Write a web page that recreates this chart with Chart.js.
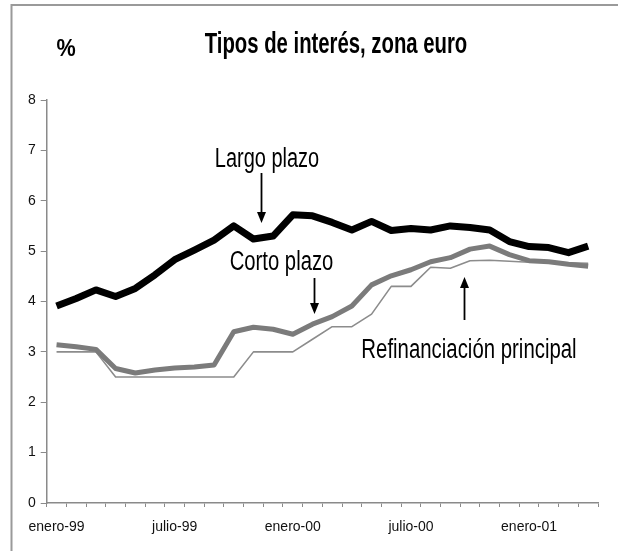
<!DOCTYPE html>
<html>
<head>
<meta charset="utf-8">
<script src="https://cdn.jsdelivr.net/npm/chart.js@4.4.0/dist/chart.umd.min.js"></script>
<style>
  html, body { margin: 0; padding: 0; background: #fff; }
  #rates-canvas { display: block; }
</style>
</head>
<body>
<canvas id="rates-canvas" width="618" height="551"></canvas>
<script>
const ratesCanvas = document.querySelector("#rates-canvas");

// meses enero-99 .. abril-01
const months = [
  "enero-99", "febrero-99", "marzo-99", "abril-99", "mayo-99", "junio-99",
  "julio-99", "agosto-99", "septiembre-99", "octubre-99", "noviembre-99", "diciembre-99",
  "enero-00", "febrero-00", "marzo-00", "abril-00", "mayo-00", "junio-00",
  "julio-00", "agosto-00", "septiembre-00", "octubre-00", "noviembre-00", "diciembre-00",
  "enero-01", "febrero-01", "marzo-01", "abril-01"
];
const shownLabels = ["enero-99", "julio-99", "enero-00", "julio-00", "enero-01"];
const yTicks = [0, 1, 2, 3, 4, 5, 6, 7, 8];

const largoPlazo = [3.91, 4.06, 4.23, 4.10, 4.26, 4.53, 4.83, 5.02, 5.22, 5.50, 5.24, 5.30,
  5.72, 5.70, 5.57, 5.42, 5.59, 5.41, 5.45, 5.42, 5.50, 5.47, 5.42, 5.19,
  5.09, 5.07, 4.97, 5.10];
const cortoPlazo = [3.14, 3.10, 3.05, 2.67, 2.58, 2.64, 2.68, 2.70, 2.74, 3.40, 3.49, 3.45,
  3.35, 3.55, 3.70, 3.91, 4.33, 4.51, 4.63, 4.79, 4.87, 5.04, 5.10, 4.93,
  4.81, 4.79, 4.74, 4.70];
const refinanciacion = [3.0, 3.0, 3.0, 2.5, 2.5, 2.5, 2.5, 2.5, 2.5, 2.5, 3.0, 3.0,
  3.0, 3.25, 3.5, 3.5, 3.75, 4.3, 4.3, 4.68, 4.66, 4.81, 4.82, 4.80,
  4.78, 4.78, 4.77, 4.76];

const FONT = "'Liberation Sans', Arial, sans-serif";

function squeezedText(ctx, text, x, y, size, weight, sx) {
  ctx.save();
  ctx.font = weight + " " + size + "px " + FONT;
  ctx.fillStyle = "#000";
  ctx.textAlign = "center";
  ctx.textBaseline = "alphabetic";
  ctx.translate(x, y);
  ctx.scale(sx, 1);
  ctx.fillText(text, 0, 0);
  ctx.restore();
}

function arrow(ctx, x, y1, y2) {
  // y2 is the tip
  const dir = y2 > y1 ? 1 : -1;
  ctx.save();
  ctx.strokeStyle = "#000";
  ctx.fillStyle = "#000";
  ctx.lineWidth = 1.8;
  ctx.beginPath();
  ctx.moveTo(x, y1);
  ctx.lineTo(x, y2 - dir * 8);
  ctx.stroke();
  ctx.beginPath();
  ctx.moveTo(x, y2);
  ctx.lineTo(x - 4.5, y2 - dir * 11);
  ctx.lineTo(x + 4.5, y2 - dir * 11);
  ctx.closePath();
  ctx.fill();
  ctx.restore();
}

const annotations = {
  id: "annotations",
  afterDraw(chart) {
    const ctx = chart.ctx;
    // marco
    ctx.save();
    ctx.strokeStyle = "#9a9a9a";
    ctx.lineWidth = 2;
    ctx.beginPath();
    ctx.moveTo(11.5, 551);
    ctx.lineTo(11.5, 5);
    ctx.lineTo(618, 5);
    ctx.stroke();
    ctx.restore();

    squeezedText(ctx, "Tipos de interés, zona euro", 336, 53, 29, "bold", 0.70);
    squeezedText(ctx, "%", 66, 56, 24, "bold", 0.9);

    squeezedText(ctx, "Largo plazo", 267, 167, 27, "normal", 0.74);
    arrow(ctx, 261.5, 173, 223);

    squeezedText(ctx, "Corto plazo", 281.5, 270, 27, "normal", 0.75);
    arrow(ctx, 314.5, 278, 314);

    squeezedText(ctx, "Refinanciación principal", 469, 358, 27, "normal", 0.755);
    arrow(ctx, 464.5, 320, 277);
  }
};

const data = {
  labels: months,
  datasets: [
    {
      label: "Largo plazo",
      data: largoPlazo,
      borderColor: "#000",
      borderWidth: 7,
      order: 1,
    },
    {
      label: "Corto plazo",
      data: cortoPlazo,
      borderColor: "#7b7b7b",
      borderWidth: 5,
      order: 2,
    },
    {
      label: "Refinanciación principal",
      data: refinanciacion,
      borderColor: "#8c8c8c",
      borderWidth: 1.6,
      order: 3,
    },
  ],
};

new Chart(ratesCanvas, {
  type: "line",
  data: data,
  options: {
    responsive: false,
    animation: false,
    devicePixelRatio: 1,
    layout: { padding: { left: 10, right: 20, top: 100, bottom: 0 } },
    elements: {
      point: { radius: 0 },
      line: { tension: 0, borderJoinStyle: "round", borderCapStyle: "butt", fill: false },
    },
    plugins: {
      legend: { display: false },
      tooltip: { enabled: false },
      title: { display: false },
    },
    scales: {
      x: {
        type: "category",
        offset: true,
        afterFit: (s) => { s.height = 48; },
        border: { color: "#8a8a8a", width: 1.5 },
        grid: {
          offset: true,
          drawOnChartArea: false,
          drawTicks: true,
          tickLength: 4,
          color: "#8a8a8a",
        },
        ticks: {
          autoSkip: false,
          maxRotation: 0,
          padding: 12,
          color: "#111",
          font: { family: FONT, size: 14 },
          callback: function (value, index) {
            const lbl = months[index];
            return shownLabels.includes(lbl) ? lbl : "";
          },
        },
      },
      y: {
        min: yTicks[0],
        max: yTicks[yTicks.length - 1],
        afterFit: (s) => { s.width = 36.7; },
        afterBuildTicks: (s) => { s.ticks = yTicks.map((v) => ({ value: v })); },
        border: { color: "#8a8a8a", width: 1.5 },
        grid: {
          drawOnChartArea: false,
          tickLength: 6,
          color: "#8a8a8a",
        },
        ticks: {
          padding: 5,
          color: "#111",
          font: { family: FONT, size: 14 },
        },
      },
    },
  },
  plugins: [annotations],
});
</script>
</body>
</html>
